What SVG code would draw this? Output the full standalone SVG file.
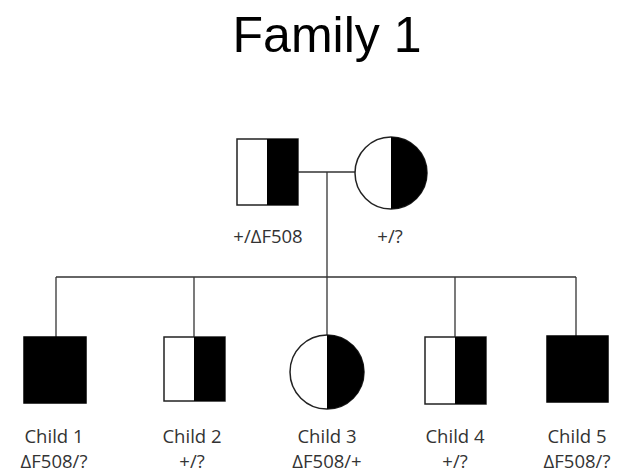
<svg xmlns="http://www.w3.org/2000/svg" width="621" height="475" viewBox="0 0 621 475">
  <style>
    .title { font-family: "Liberation Sans", Arial, sans-serif; font-size: 50px; fill: #000; text-anchor: middle; }
    .label { font-family: "Open Sans", "Liberation Sans", sans-serif; font-size: 18.5px; fill: #333; text-anchor: middle; }
    .outline { fill: #fff; stroke: #222; stroke-width: 1.5; }
    .solid { fill: #000; stroke: #000; stroke-width: 1.5; }
    .half { fill: #000; }
    .link { fill: none; stroke: #333; stroke-width: 1.3; }
  </style>
  <rect width="621" height="475" fill="#fff"/>
  <text class="title" x="327" y="52">Family 1</text>

  <g id="connectors">
    <path class="link" d="M298 172 H357"/>
    <path class="link" d="M327 172 V277"/>
    <path class="link" d="M56 277 H576"/>
    <path class="link" d="M56 277 V337"/>
    <path class="link" d="M194 277 V337"/>
    <path class="link" d="M327 277 V336"/>
    <path class="link" d="M455 277 V337"/>
    <path class="link" d="M576 277 V336"/>
  </g>

  <g id="father">
    <rect class="outline" x="237" y="139" width="61" height="66"/>
    <rect class="half" x="267" y="139" width="31" height="66"/>
    <text class="label" x="268" y="243">+/ΔF508</text>
  </g>

  <g id="mother">
    <circle class="outline" cx="391" cy="173" r="36"/>
    <path class="half" d="M391 137 A36 36 0 0 1 391 209 Z"/>
    <text class="label" x="390" y="243">+/?</text>
  </g>

  <g id="child1">
    <rect class="solid" x="24" y="337" width="62" height="66"/>
    <text class="label" x="54" y="443">Child 1</text>
    <text class="label" x="54" y="468">ΔF508/?</text>
  </g>

  <g id="child2">
    <rect class="outline" x="164" y="337" width="61" height="64"/>
    <rect class="half" x="194" y="337" width="31" height="64"/>
    <text class="label" x="192" y="443">Child 2</text>
    <text class="label" x="192" y="468">+/?</text>
  </g>

  <g id="child3">
    <circle class="outline" cx="327" cy="372" r="37"/>
    <path class="half" d="M327 335 A37 37 0 0 1 327 409 Z"/>
    <text class="label" x="327" y="443">Child 3</text>
    <text class="label" x="327" y="468">ΔF508/+</text>
  </g>

  <g id="child4">
    <rect class="outline" x="425" y="337" width="61" height="67"/>
    <rect class="half" x="455" y="337" width="31" height="67"/>
    <text class="label" x="455" y="443">Child 4</text>
    <text class="label" x="455" y="468">+/?</text>
  </g>

  <g id="child5">
    <rect class="solid" x="547" y="336" width="61" height="66"/>
    <text class="label" x="577" y="443">Child 5</text>
    <text class="label" x="577" y="468">ΔF508/?</text>
  </g>
</svg>
